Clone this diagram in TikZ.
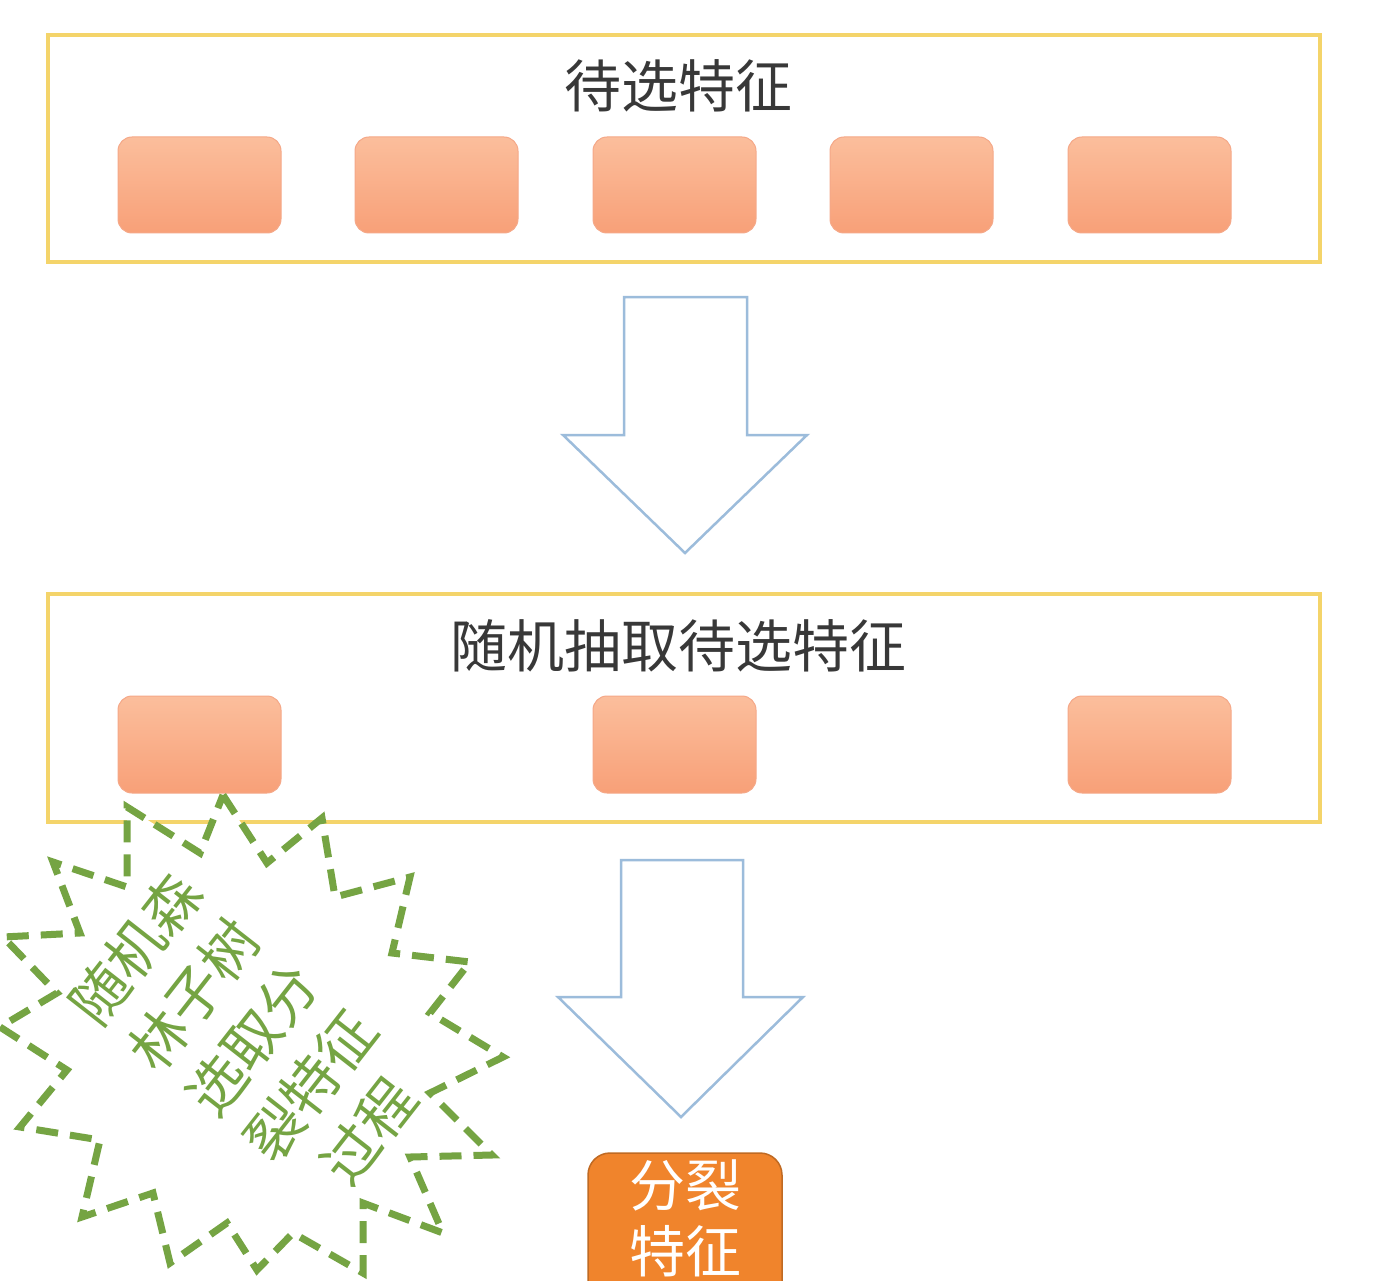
\documentclass[tikz,border=0pt]{standalone}
\usepackage{fontspec}
\setmainfont{Noto Sans CJK SC}
\definecolor{fy}{HTML}{F4D46A}
\definecolor{ftop}{HTML}{FBBE9C}
\definecolor{fbot}{HTML}{F8A078}
\definecolor{fdr}{HTML}{F5A888}
\definecolor{arr}{HTML}{9CBCDB}
\definecolor{gr}{HTML}{75A443}
\definecolor{ob}{HTML}{F0842C}
\begin{document}
\begin{tikzpicture}[x=1pt,y=-1pt,
  frame/.style={draw=fy,line width=4pt},
  feat/.style={rounded corners=14pt,draw=fdr,top color=ftop,bottom color=fbot,line width=1pt},
  harrow/.style={draw=arr,line width=2.5pt,fill=white,line join=miter},
  title/.style={font=\fontsize{57}{64}\selectfont,text=black!78}]
\useasboundingbox (0,0) rectangle (1391,1281);
\clip (0,0) rectangle (1391,1281);
\fill[white] (0,0) rectangle (1391,1281);
\draw[frame] (48,35) rectangle (1320,262);
\node[title] (t1) at (678,86) {待选特征};
\foreach \x [count=\i] in {118,355,593,830,1068}
  \path[feat] (\x,137) rectangle ++(163,96) coordinate (f\i);
\draw[harrow] (624,297) -- (747,297) -- (747,435) -- (807,435) -- (685,553) -- (563,435) -- (624,435) -- cycle;
\draw[frame] (48,594) rectangle (1320,822);
\node[title] (t2) at (678,646) {随机抽取待选特征};
\foreach \x [count=\i] in {118,593,1068}
  \path[feat] (\x,696) rectangle ++(163,97);
\draw[harrow] (621,860) -- (743,860) -- (743,997) -- (803,997) -- (681,1117) -- (558,997) -- (621,997) -- cycle;
\draw[rounded corners=22pt,fill=ob,draw=ob!80!black,line width=1.5pt] (588,1153) rectangle (782,1320);
\node[text=white,font=\fontsize{56}{66}\selectfont,align=center] (res) at (685,1218) {分裂\\特征};
\draw[draw=gr,line width=7pt,dash pattern=on 22pt off 12pt,fill=white]
 (223,795) -- (267,863) -- (322,818) -- (335,897) -- (410,877) -- (392,953) -- (470,962) -- (430,1013) -- (503,1057) -- (430,1093) -- (492,1155) -- (410,1157) -- (443,1233) -- (363,1203) -- (363,1273) -- (293,1233) -- (257,1270) -- (227,1223) -- (170,1263) -- (153,1193) -- (82,1217) -- (100,1140) -- (20,1127) -- (67,1070) -- (0,1027) -- (57,993) -- (3,937) -- (80,933) -- (53,862) -- (127,887) -- (127,807) -- (200,853) -- cycle;
\node[rotate=52,text=gr,font=\fontsize{57}{74}\selectfont,align=center] (star) at (252,1040) {随机森\\林子树\\选取分\\裂特征\\过程};
\end{tikzpicture}
\end{document}
